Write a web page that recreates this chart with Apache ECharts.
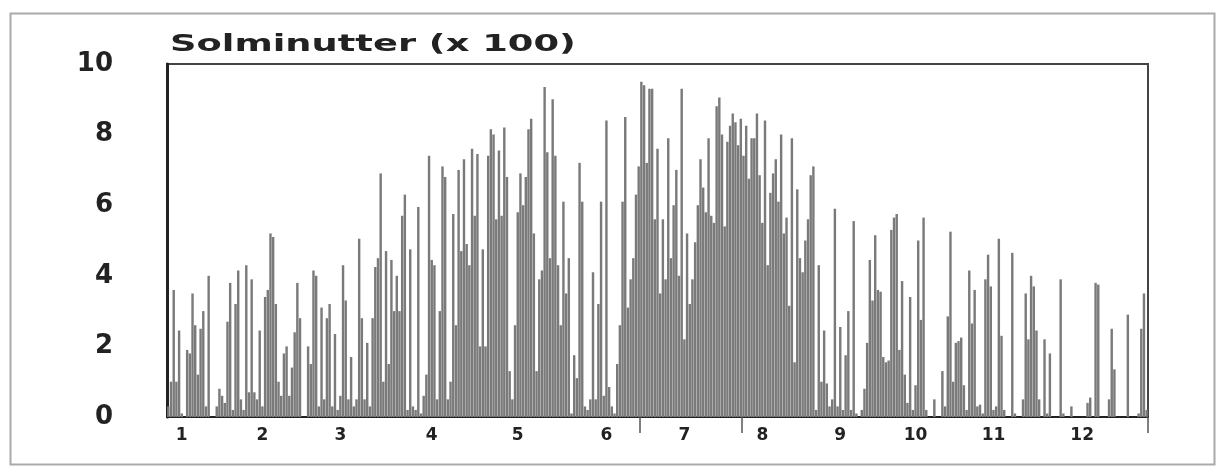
<!DOCTYPE html>
<html>
<head>
<meta charset="utf-8">
<script src="https://cdn.jsdelivr.net/npm/echarts@6/dist/echarts.min.js"></script>
<style>html,body{margin:0;padding:0;background:#fff}#c{width:1217px;height:472px}</style>
</head>
<body>
<div id="c"></div>
<script>
// Daily sunshine minutes (x 100), one array per month
const jan = [0.3,1.0,3.6,1.0,2.45,0.1,0,1.9,1.8,3.5,2.6,1.2,2.5,3.0,0.3,4.0,0,0,0.3,0.8,0.6,0.4,2.7,3.8,0.2,3.2,4.15,0.5,0.2,4.3,0.7];
const feb = [3.9,0.7,0.5,2.45,0.3,3.4,3.6,5.2,5.1,3.2,1.0,0.6,1.8,2.0,0.6,1.4,2.4,3.8,2.8,0,0,2.0,1.5,4.15,4.0,0.3,3.1,0.5];
const mar = [2.8,3.2,0.3,2.35,0.2,0.6,4.3,3.3,0.5,1.7,0.3,0.5,5.05,2.8,0.5,2.1,0.3,2.8,4.25,4.5,6.9,1.0,4.7,1.5,4.45,3.0,4.0,3.0,5.7,6.3,0.2];
const apr = [4.75,0.3,0.2,5.95,0.1,0.6,1.2,7.4,4.45,4.3,0.5,3.0,7.1,6.8,0.5,1.0,5.75,2.6,7.0,4.7,7.3,4.9,4.3,7.6,5.7,7.45,2.0,4.75,2.0,7.4];
const may = [8.15,8.0,5.6,7.55,5.7,8.2,6.8,1.3,0.5,2.6,5.8,6.9,6.0,6.8,8.15,8.45,5.2,1.3,3.9,4.15,9.35,7.5,4.5,9.0,7.4,4.3,2.6,6.1,3.5,4.5,0.1];
const jun = [1.75,1.1,7.2,6.1,0.3,0.2,0.5,4.1,0.5,3.2,6.1,0.6,8.4,0.85,0.3,0.1,1.5,2.6,6.1,8.5,3.1,3.9,4.5,6.3,7.1,9.5,9.4,7.2,9.3,9.3];
const jul = [5.6,7.6,3.5,5.6,3.9,7.9,4.5,6.0,7.0,4.0,9.3,2.2,5.2,3.2,3.9,4.95,6.0,7.3,6.5,5.8,7.9,5.7,5.5,8.8,9.05,8.0,5.4,7.8,8.25,8.6,8.35];
const aug = [7.7,8.45,7.4,8.25,6.75,7.9,7.9,8.6,6.85,5.5,8.4,4.3,6.35,6.9,7.3,6.1,8.0,5.2,5.65,3.15,7.9,1.55,6.45,4.5,4.1,5.0,5.6,6.85,7.1,0.2,4.3];
const sep = [1.0,2.45,0.95,0.3,0.5,5.9,0.3,2.55,0.2,1.75,3.0,0.2,5.55,0.1,0,0.2,0.8,2.1,4.45,3.3,5.15,3.6,3.55,1.7,1.55,1.6,5.3,5.65,5.75,1.9];
const oct = [3.85,1.2,0.4,3.4,0.2,0.9,5.0,2.75,5.65,0.2,0,0,0.5,0,0,1.3,0.3,2.85,5.25,1.0,2.1,2.15,2.25,0.9,0.2,4.15,2.65,3.6,0.3,0.35,0.1];
const nov = [3.9,4.6,3.7,0.2,0.3,5.05,2.3,0.2,0,0,4.65,0.1,0,0,0.5,3.5,2.2,4.0,3.7,2.45,0.5,0,2.2,0.1,1.8,0,0,0,3.9,0.1];
const dec = [0,0,0.3,0,0,0,0,0,0.4,0.55,0,3.8,3.75,0,0,0,0.5,2.5,1.35,0,0,0,0,2.9,0,0,0,0.1,2.5,3.5,0.2];

const monthLabels = ['1','2','3','4','5','6','7','8','9','10','11','12'];
const monthLabelDays = [5,35,64,98,130,163,192,221,250,278,307,340];
const tickDays = [176,214];
const titleText = 'Solminutter (x 100)';

const values = [].concat(jan,feb,mar,apr,may,jun,jul,aug,sep,oct,nov,dec);
const days = values.map((v,i)=>String(i+1));

const chart = echarts.init(document.getElementById('c'), null, {renderer:'canvas'});
chart.setOption({
  animation:false,
  backgroundColor:'#fff',
  grid:{left:167,right:69,top:64,bottom:55,show:true,borderColor:'#444',borderWidth:2,backgroundColor:'transparent'},
  xAxis:{
    type:'category', data:days, boundaryGap:true,
    axisLine:{show:true,lineStyle:{color:'#222',width:2}},
    axisTick:{show:true,interval:(i)=>tickDays.includes(i),length:16,lineStyle:{color:'#555',width:1.5}},
    axisLabel:{
      interval:(i)=>monthLabelDays.includes(i),
      formatter:(v,i)=>monthLabels[monthLabelDays.indexOf(i)],
      fontFamily:'DejaVu Sans',fontWeight:'bold',fontSize:17,color:'#222',margin:10
    }
  },
  yAxis:{
    type:'value',min:0,max:10,interval:2,
    axisLine:{show:true,lineStyle:{color:'#222',width:3}},
    axisTick:{show:false},splitLine:{show:false},
    axisLabel:{fontFamily:'DejaVu Sans',fontWeight:'bold',fontSize:26,color:'#222',margin:54}
  },
  series:[{type:'bar',data:values,itemStyle:{color:'#7a7a7a'},barCategoryGap:'10%'}],
  graphic:[
    {type:'rect',left:8,top:11,shape:{width:1204,height:451},style:{fill:'none',stroke:'#aaa',lineWidth:2},silent:true,z:-1},
    {type:'text',x:170,y:34,scaleX:1.6,style:{text:titleText,font:'bold 23px "DejaVu Sans"',fill:'#222',align:'left',verticalAlign:'top'}}
  ]
});
</script>
</body>
</html>
